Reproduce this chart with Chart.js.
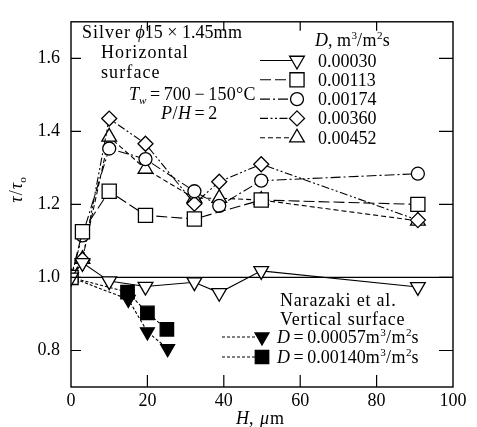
<!DOCTYPE html>
<html>
<head>
<meta charset="utf-8">
<script src="https://cdn.jsdelivr.net/npm/chart.js@4.4.0/dist/chart.umd.min.js"></script>
<style>
  html, body { margin: 0; padding: 0; background: #fff; }
  #wrap { width: 477px; height: 427px; }
</style>
</head>
<body>
<div id="wrap"><canvas id="chart" width="477" height="427"></canvas></div>
<script>
// H, um  vs  tau / tau0  -- silver, horizontal surface
const H_MAIN = [0, 3, 10, 19.5, 32.3, 38.8, 49.8, 90.8];
const H_113 = [0, 3, 10, 19.5, 32.3, 49.8, 90.8];
const TAU_030 = [1.0, 1.04, 0.99, 0.975, 0.987, 0.958, 1.018, 0.974];
const TAU_113 = [1.0, 1.125, 1.236, 1.17, 1.16, 1.212, 1.20];
const TAU_174 = [1.0, 1.115, 1.353, 1.324, 1.236, 1.196, 1.265, 1.284];
const TAU_360 = [1.0, 1.048, 1.435, 1.366, 1.202, 1.262, 1.31, 1.157];
const TAU_452 = [1.0, 1.05, 1.385, 1.297, 1.217, 1.217, 1.212, 1.155];

// Narazaki et al., vertical surface
const H_N057 = [0, 15, 20, 25.3];
const TAU_N057 = [1.0, 0.94, 0.851, 0.805];
const H_N140 = [0, 14.8, 20, 25.1];
const TAU_N140 = [1.0, 0.96, 0.903, 0.858];

const LABELS_D = ['0.00030', '0.00113', '0.00174', '0.00360', '0.00452'];
const LABELS_N = ['0.00057', '0.00140'];
const X_TICKS = [0, 20, 40, 60, 80, 100];
const Y_TICKS = [0.8, 1.0, 1.2, 1.4, 1.6];
const REF_TAU = 1.0;

const FONT = '"Liberation Serif", "DejaVu Serif", serif';
const TS = '\u2009'; // thin space

const DASH = {
  solid: [],
  longDash: [11, 4],
  dashDot: [10, 3, 2, 3],
  dashDotDot: [8, 2.5, 2, 2.5, 2, 2.5],
  dash: [5, 3],
  dot: [3, 2]
};

function toPoints(xs, ys) {
  return xs.map((x, i) => ({ x: x, y: ys[i] }));
}

function series(label, xs, ys, style, radius, dash, filled, rot) {
  return {
    label: label,
    data: toPoints(xs, ys),
    borderColor: '#000',
    borderWidth: 1.1,
    borderDash: dash,
    pointStyle: style,
    pointRotation: rot || 0,
    pointRadius: radius,
    pointHoverRadius: radius,
    pointBorderWidth: 1.3,
    pointBorderColor: '#000',
    pointBackgroundColor: filled ? '#000' : '#fff',
    tension: 0,
    fill: false
  };
}

// mixed italic / superscript / subscript text, ls = letter spacing
function rich(ctx, x, y, segs, size, measureOnly) {
  let cx = x;
  segs.forEach(s => {
    let sz = size, dy = 0;
    if (s.sup) { sz = size * 0.62; dy = -size * 0.38; }
    if (s.sub) { sz = size * 0.62; dy = size * 0.2; }
    ctx.font = (s.it ? 'italic ' : '') + sz + 'px ' + FONT;
    ctx.letterSpacing = (s.ls || 0) + 'px';
    if (!measureOnly) ctx.fillText(s.t, cx, y + dy);
    cx += ctx.measureText(s.t).width;
  });
  ctx.letterSpacing = '0px';
  return cx - x;
}

function marker(ctx, style, x, y, r, filled) {
  ctx.save();
  ctx.setLineDash([]);
  ctx.lineWidth = 1.3;
  ctx.strokeStyle = '#000';
  ctx.fillStyle = filled ? '#000' : '#fff';
  ctx.beginPath();
  if (style === 'circle') {
    ctx.arc(x, y, r, 0, Math.PI * 2);
  } else if (style === 'rect') {
    const s = r * Math.SQRT1_2;
    ctx.rect(x - s, y - s, 2 * s, 2 * s);
  } else if (style === 'rectRot') {
    ctx.moveTo(x, y - r); ctx.lineTo(x + r, y); ctx.lineTo(x, y + r); ctx.lineTo(x - r, y);
  } else if (style === 'up' || style === 'down') {
    const sg = style === 'up' ? 1 : -1;
    const h = Math.sqrt(3) / 2 * r;
    ctx.moveTo(x, y - sg * r);
    ctx.lineTo(x + h, y + sg * r / 2);
    ctx.lineTo(x - h, y + sg * r / 2);
  }
  ctx.closePath();
  ctx.fill();
  ctx.stroke();
  ctx.restore();
}

const unitSegs = [{ t: 'm', ls: 0.5 }, { t: '3', sup: true }, { t: '/m', ls: 0.5 }, { t: '2', sup: true }, { t: 's' }];

const framePlugin = {
  id: 'frame',
  beforeDatasetsDraw(chart) {
    const { ctx, chartArea: a, scales } = chart;
    const y = scales.y.getPixelForValue(REF_TAU);
    ctx.save();
    ctx.strokeStyle = '#000';
    ctx.lineWidth = 1.2;
    ctx.beginPath();
    ctx.moveTo(a.left, y);
    ctx.lineTo(a.right, y);
    ctx.stroke();
    ctx.restore();
  },
  afterDraw(chart) {
    const { ctx, chartArea: a, scales } = chart;
    ctx.save();
    ctx.strokeStyle = '#000';
    ctx.lineWidth = 1.4;
    ctx.setLineDash([]);
    ctx.strokeRect(a.left, a.top, a.right - a.left, a.bottom - a.top);

    // inward ticks
    ctx.lineWidth = 1.2;
    ctx.beginPath();
    X_TICKS.slice(1, -1).forEach(v => {
      const px = scales.x.getPixelForValue(v);
      ctx.moveTo(px, a.bottom); ctx.lineTo(px, a.bottom - 12);
      ctx.moveTo(px, a.top); ctx.lineTo(px, a.top + 9);
    });
    Y_TICKS.forEach(v => {
      const py = scales.y.getPixelForValue(v);
      ctx.moveTo(a.left, py); ctx.lineTo(a.left + 10, py);
      ctx.moveTo(a.right, py); ctx.lineTo(a.right - 14, py);
    });
    ctx.stroke();

    ctx.fillStyle = '#000';
    ctx.textBaseline = 'alphabetic';
    ctx.textAlign = 'left';
    const fs = 18;

    // conditions
    rich(ctx, 82, 38, [{ t: 'Silver', ls: 1 }, { t: ' ' }, { t: 'ϕ', it: true }, { t: '15' }, { t: ' × ' }, { t: '1.45' }, { t: 'mm', ls: 0.5 }], fs);
    rich(ctx, 101, 58, [{ t: 'Horizontal', ls: 1.1 }], fs);
    rich(ctx, 101, 78, [{ t: 'surface', ls: 1.1 }], fs);
    rich(ctx, 129, 100, [{ t: 'T', it: true }, { t: 'w', it: true, sub: true }, { t: TS + '=' + TS }, { t: '700' }, { t: TS + '−' + TS }, { t: '150°C', ls: 0.3 }], fs);
    rich(ctx, 161, 119, [{ t: 'P', it: true, ls: 0.5 }, { t: '/', ls: 0.5 }, { t: 'H', it: true }, { t: TS + '=' + TS + '2' }], fs);

    // legend for D
    rich(ctx, 315, 46, [{ t: 'D', it: true }, { t: ', ' }].concat(unitSegs), fs);
    const styles = ['down', 'rect', 'circle', 'rectRot', 'up'];
    const radii = [8.5, 10, 6.5, 7.5, 8.5];
    const dashes = [DASH.solid, DASH.longDash, DASH.dashDot, DASH.dashDotDot, DASH.dash];
    LABELS_D.forEach((lab, i) => {
      const by = 66.5 + i * 19.3;
      const my = by - 6;
      ctx.lineWidth = 1.1;
      ctx.setLineDash(dashes[i]);
      ctx.beginPath();
      ctx.moveTo(260, my); ctx.lineTo(296, my);
      ctx.stroke();
      ctx.setLineDash([]);
      marker(ctx, styles[i], 297, my, radii[i], false);
      ctx.fillStyle = '#000';
      rich(ctx, 318, by, [{ t: lab }], fs);
    });

    // Narazaki legend
    rich(ctx, 280, 306, [{ t: 'Narazaki et al.', ls: 0.8 }], fs);
    rich(ctx, 280, 325, [{ t: 'Vertical surface', ls: 0.8 }], fs);
    const nst = ['down', 'rect'];
    const nr = [8, 9.5];
    LABELS_N.forEach((lab, i) => {
      const by = 343 + i * 20;
      const my = by - 6;
      ctx.lineWidth = 1.1;
      ctx.setLineDash(DASH.dot);
      ctx.beginPath();
      ctx.moveTo(222, my); ctx.lineTo(256, my);
      ctx.stroke();
      ctx.setLineDash([]);
      marker(ctx, nst[i], 262, my, nr[i], true);
      ctx.fillStyle = '#000';
      rich(ctx, 277, by, [{ t: 'D', it: true }, { t: TS + '=' + TS + lab }].concat(unitSegs), fs);
    });

    // x title
    const xt = [{ t: 'H', it: true }, { t: ', ', ls: 1 }, { t: 'μ', it: true, ls: 1 }, { t: 'm' }];
    const xw = rich(ctx, 0, 0, xt, fs, true);
    rich(ctx, 260 - xw / 2, 424, xt, fs);

    // y title
    const yt = [{ t: 'τ', it: true, ls: 1 }, { t: '/', ls: 1 }, { t: 'τ', it: true }, { t: 'o', sub: true }];
    const yw = rich(ctx, 0, 0, yt, fs, true);
    ctx.translate(22, 190);
    ctx.rotate(-Math.PI / 2);
    rich(ctx, -yw / 2, 0, yt, fs);
    ctx.restore();
  }
};

const ctx = document.getElementById('chart').getContext('2d');
new Chart(ctx, {
  type: 'line',
  data: {
    datasets: [
      series('0.00030', H_MAIN, TAU_030, 'triangle', 8.5, DASH.solid, false, 180),
      series('0.00113', H_113, TAU_113, 'rect', 10, DASH.longDash, false),
      series('0.00174', H_MAIN, TAU_174, 'circle', 6.5, DASH.dashDot, false),
      series('0.00360', H_MAIN, TAU_360, 'rectRot', 7.5, DASH.dashDotDot, false),
      series('0.00452', H_MAIN, TAU_452, 'triangle', 8.5, DASH.dash, false),
      series('N 0.00057', H_N057, TAU_N057, 'triangle', 8, DASH.dot, true, 180),
      series('N 0.00140', H_N140, TAU_N140, 'rect', 9.5, DASH.dot, true)
    ]
  },
  options: {
    responsive: false,
    animation: false,
    devicePixelRatio: 1,
    layout: { padding: { top: 9, right: 24, left: 0, bottom: 0 } },
    plugins: { legend: { display: false }, tooltip: { enabled: false } },
    scales: {
      x: {
        type: 'linear',
        min: 0, max: 100,
        afterBuildTicks: s => { s.ticks = X_TICKS.map(v => ({ value: v })); },
        afterFit: s => { s.height = 40; },
        grid: { display: false, drawTicks: false },
        border: { display: false },
        ticks: { color: '#000', padding: 3, font: { family: FONT, size: 18 } }
      },
      y: {
        type: 'linear',
        min: 0.7, max: 1.7,
        afterBuildTicks: s => { s.ticks = Y_TICKS.map(v => ({ value: v })); },
        afterFit: s => { s.width = 71; },
        grid: { display: false, drawTicks: false },
        border: { display: false },
        ticks: { color: '#000', padding: 11, font: { family: FONT, size: 18 }, callback: v => v.toFixed(1) }
      }
    }
  },
  plugins: [framePlugin]
});
</script>
</body>
</html>
